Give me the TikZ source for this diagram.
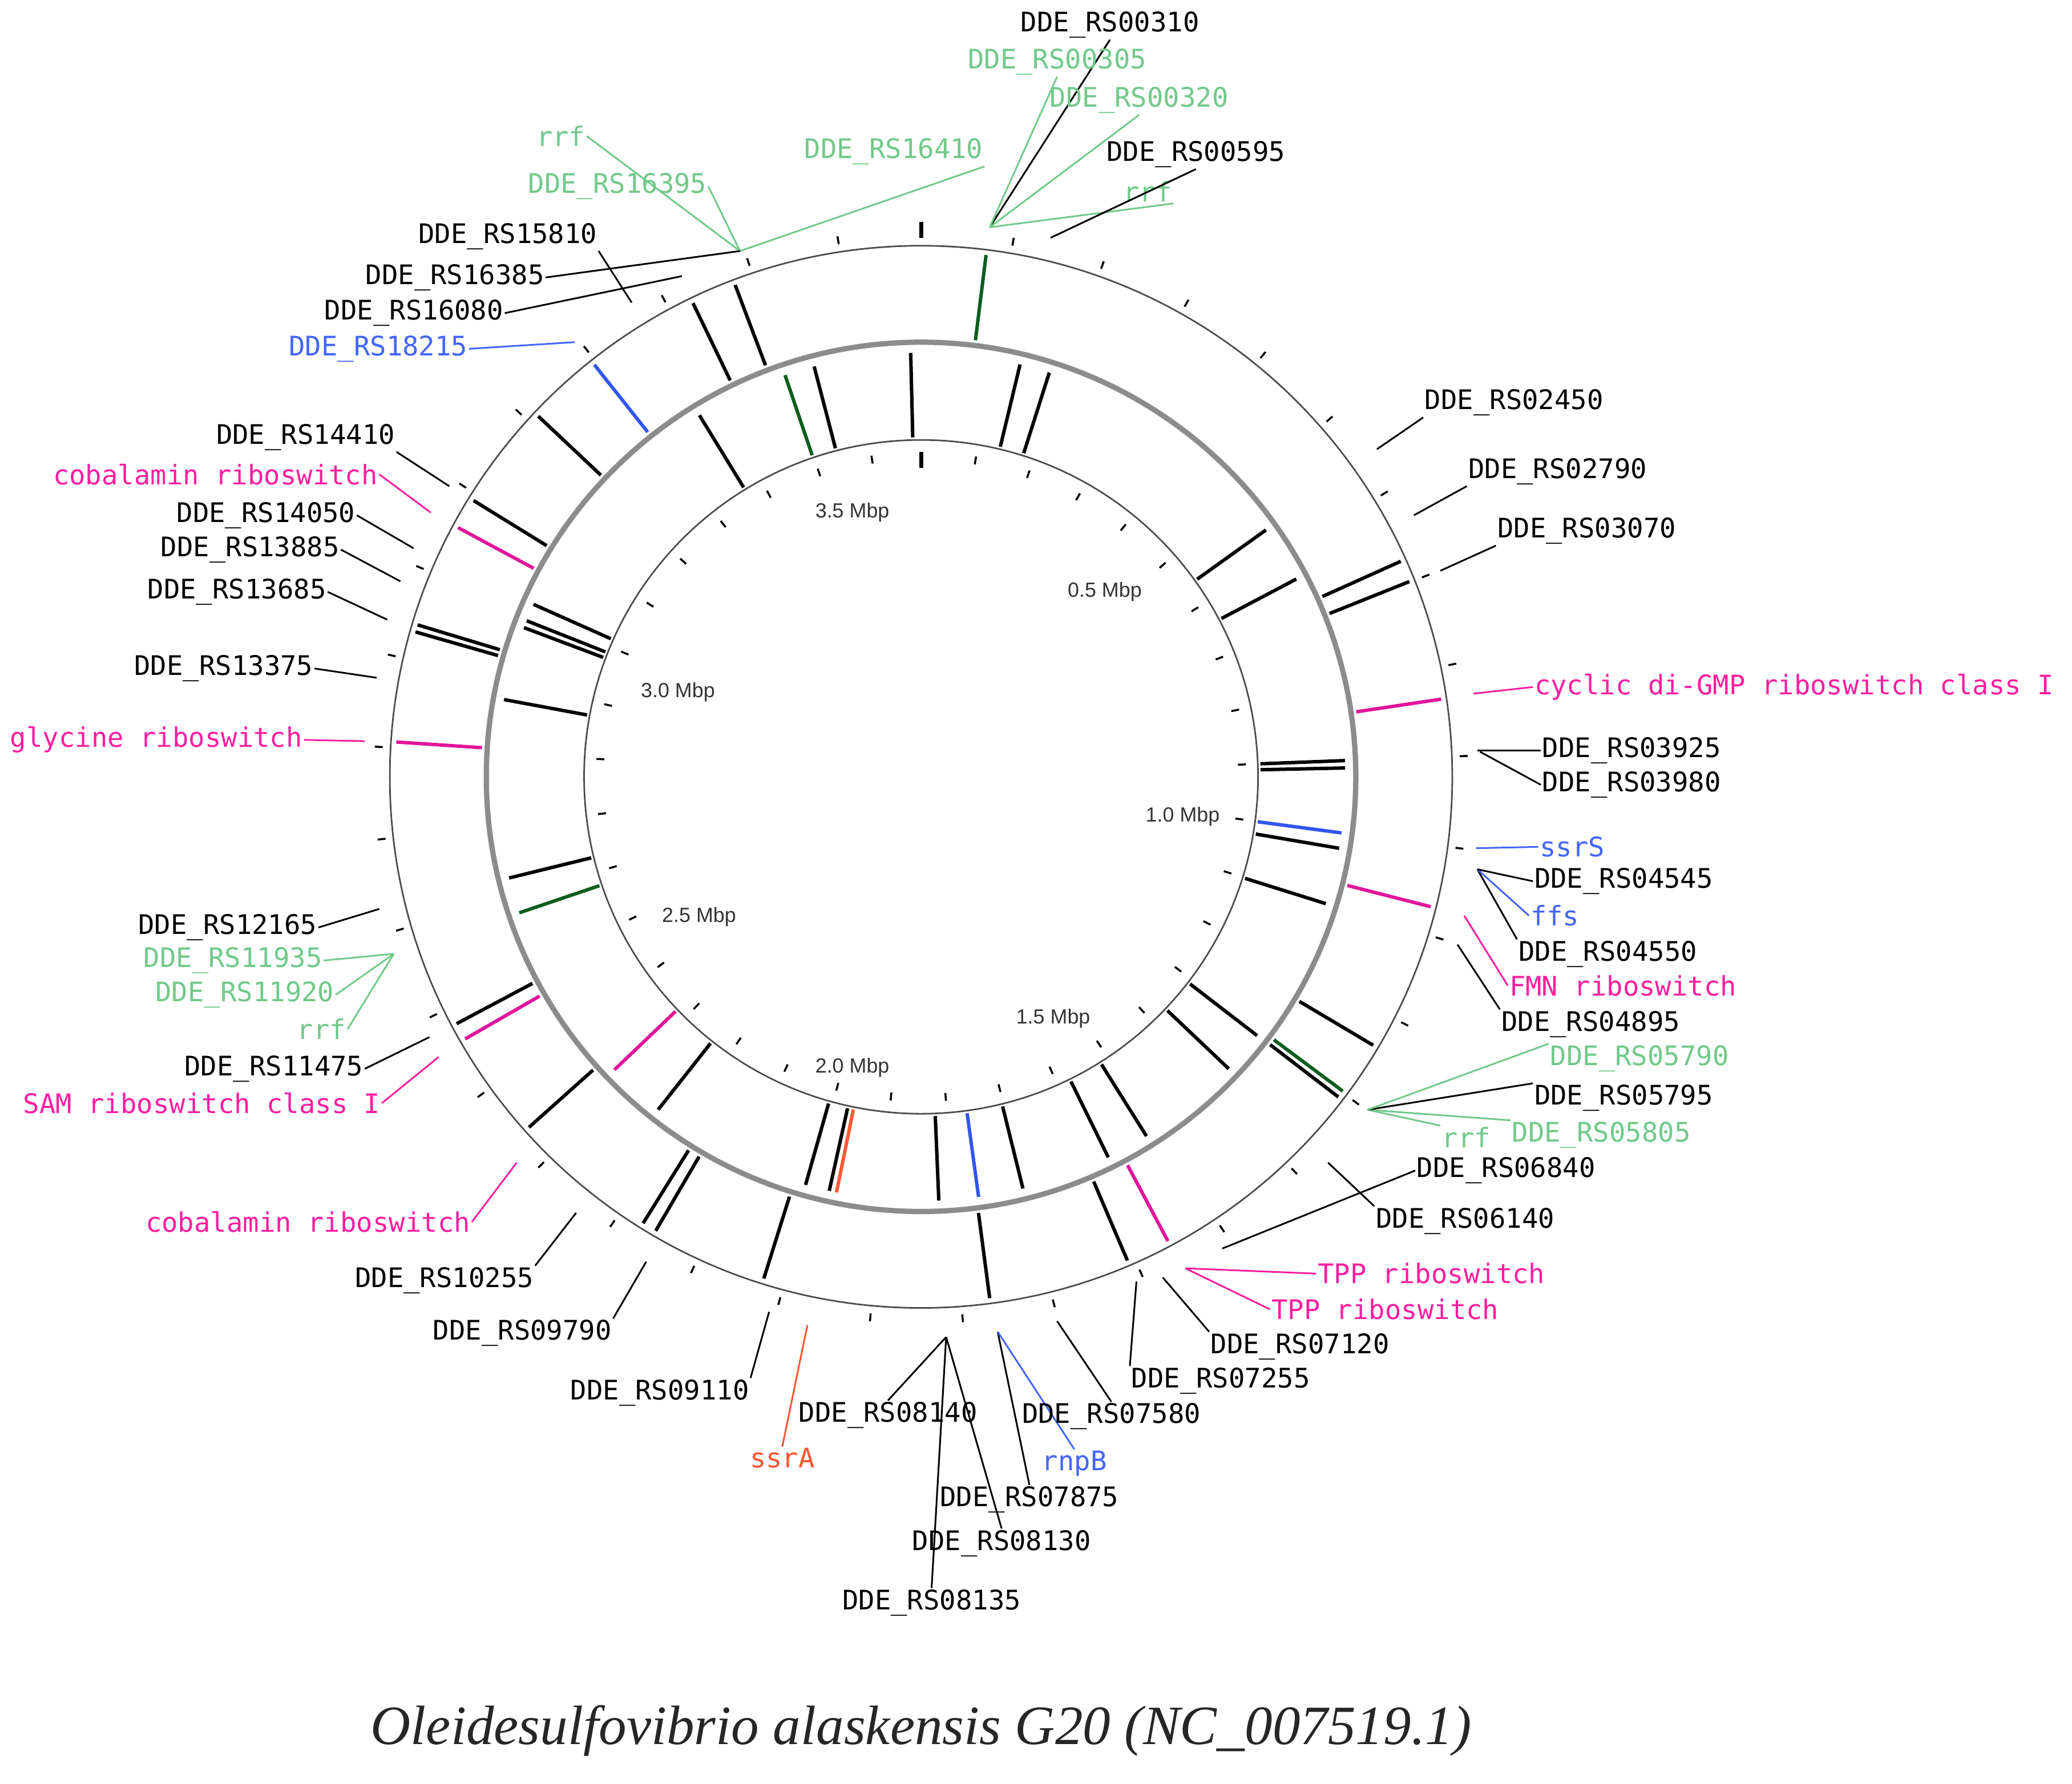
\documentclass[tikz,border=0pt]{standalone}
\usepackage{fontspec}
\setmainfont{Liberation Serif}
\newfontfamily\monof{DejaVu Sans Mono}
\newfontfamily\sansf{Liberation Sans}
\definecolor{fgreen}{HTML}{0B5D1E}
\definecolor{fmag}{HTML}{E0169B}
\definecolor{fblue}{HTML}{3355EE}
\definecolor{forange}{HTML}{FF5A36}
\definecolor{lgreen}{HTML}{72C98A}
\definecolor{lmag}{HTML}{FF1FA0}
\definecolor{lblue}{HTML}{4466FF}
\definecolor{lorange}{HTML}{FF5533}
\tikzset{
  lbl/.style={font=\monof\fontsize{20.4}{24}\selectfont, inner sep=1pt},
  con/.style={line width=1.3pt},
  feat/.style={line width=2.6pt},
  mb/.style={font=\sansf\fontsize{15.5}{18}\selectfont, text=black!80},
}
% \lab[color]{id}{x,y}{anchor}{text}{end}
\newcommand{\lab}[6][black]{%
  \node[lbl, text=#1, anchor=#4] (#2) at (#3) {#5};
  \coordinate (#2e) at (#6);
  \draw[con, #1] (#2.#4) -- (#2e);}
\begin{document}
\begin{tikzpicture}[x=1pt,y=-1pt]
\useasboundingbox (0,0) rectangle (1568,1350);
\begin{scope}[shift={(697,588)}]
  \draw[black!70, line width=1.2pt] (0,0) circle (402);
  \draw[black!70, line width=1.2pt] (0,0) circle (255);
  \draw[black!45, line width=4pt] (0,0) circle (329);
  % ticks
  \foreach \k in {1,...,36} {
    \draw[line width=1.5pt] ({\k*9.756-90}:240) -- ({\k*9.756-90}:246);
    \draw[line width=1.5pt] ({\k*9.756-90}:408) -- ({\k*9.756-90}:414);
  }
  \draw[line width=3pt] (-90:234) -- (-90:246);
  \draw[line width=3pt] (-90:408) -- (-90:420);
  % outer ring features
  \foreach \a/\c in {7.1/fgreen,65.8/black,68.2/black,81.5/fmag,104.3/fmag,120.7/black,
     126.7/fgreen,127.5/black,152/fmag,156.9/black,172.5/black,197.4/black,210.3/black,
     211.9/black,228.2/black,240.1/fmag,242/black,273.8/fmag,286/black,286.8/black,
     298.3/fmag,301.7/black,313.3/black,321.6/fblue,334.3/black,339.3/black}
    \draw[feat, \c] ({\a-90}:333) -- ({\a-90}:398);
  % inner ring features
  \foreach \a/\c in {358.6/black,13.5/black,17.6/black,54.4/black,62.2/black,87.8/black,
     88.8/black,97.6/fblue,99.7/black,107.4/black,127.6/black,133.5/black,147.9/black,
     153.8/black,166.1/black,172.2/fblue,177.6/black,192.5/black,191.5/forange,195.8/black,
     218.3/black,226.3/fmag,251.3/fgreen,256.2/black,280.5/black,290.6/black,291.6/black,
     294/black,328.5/black,341.3/fgreen,345.4/black}
    \draw[feat, \c] ({\a-90}:257) -- ({\a-90}:321);
\end{scope}
% Mbp labels
\node[mb] (m35) at (645,388) {3.5 Mbp};
\node[mb] (m05) at (836,448) {0.5 Mbp};
\node[mb] (m10) at (895,618) {1.0 Mbp};
\node[mb] (m15) at (797,771) {1.5 Mbp};
\node[mb] (m20) at (645,808) {2.0 Mbp};
\node[mb] (m25) at (529,694) {2.5 Mbp};
\node[mb] (m30) at (513,524) {3.0 Mbp};
% labels
\lab[lgreen]{a1}{444,103}{east}{rrf}{560,190}
\lab[lgreen]{a2}{536,141}{east}{DDE\_RS16395}{560,190}
\lab[lgreen]{a3}{745,126}{south east}{DDE\_RS16410}{560,190}
\lab{a4}{453,190}{south east}{DDE\_RS15810}{478,229}
\lab{a5}{413,210}{east}{DDE\_RS16385}{560,190}
\lab{a6}{382,237}{east}{DDE\_RS16080}{516,209}
\lab[lblue]{a7}{355,264}{east}{DDE\_RS18215}{435,259}
\lab{a8}{300,342}{south east}{DDE\_RS14410}{340,368}
\lab[lmag]{a9}{287,359}{east}{cobalamin riboswitch}{326,388}
\lab{a10}{270,390}{east}{DDE\_RS14050}{313,415}
\lab{a11}{258,416}{east}{DDE\_RS13885}{303,440}
\lab{a12}{248,448}{east}{DDE\_RS13685}{293,469}
\lab{a13}{238,506}{east}{DDE\_RS13375}{285,513}
\lab[lmag]{a14}{230,560}{east}{glycine riboswitch}{276,561}
\lab{a15}{241,702}{east}{DDE\_RS12165}{287,688}
\lab[lgreen]{a16}{245,727}{east}{DDE\_RS11935}{298,722}
\lab[lgreen]{a17}{254,753}{east}{DDE\_RS11920}{298,722}
\lab[lgreen]{a18}{263,779}{east}{rrf}{298,722}
\lab{a19}{276,809}{east}{DDE\_RS11475}{325,785}
\lab[lmag]{a20}{289,835}{east}{SAM riboswitch class I}{332,800}
\lab[lmag]{a21}{357,925}{east}{cobalamin riboswitch}{391,880}
\lab{a22}{405,958}{north east}{DDE\_RS10255}{436,918}
\lab{a23}{464,998}{north east}{DDE\_RS09790}{489,955}
\lab{a24}{568,1043}{north east}{DDE\_RS09110}{582,993}
\lab[lorange]{a25}{592,1095}{north}{ssrA}{611,1003}
\lab{b1}{672,1060}{north}{DDE\_RS08140}{716,1012}
\lab{b2}{779,1124}{north}{DDE\_RS07875}{755,1008}
\lab{b3}{758,1157}{north}{DDE\_RS08130}{716,1012}
\lab{b4}{705,1202}{north}{DDE\_RS08135}{716,1012}
\lab[lblue]{b5}{813,1097}{north}{rnpB}{755,1008}
\lab{b6}{841,1061}{north}{DDE\_RS07580}{800,1000}
\lab{b7}{855,1034}{north west}{DDE\_RS07255}{860,970}
\lab{b8}{915,1008}{north west}{DDE\_RS07120}{880,967}
\lab[lmag]{b9}{996,964}{west}{TPP riboswitch}{897,960}
\lab[lmag]{b10}{961,991}{west}{TPP riboswitch}{897,960}
\lab{b11}{1040,913}{north west}{DDE\_RS06140}{1005,880}
\lab{b12}{1071,886}{west}{DDE\_RS06840}{925,945}
\lab[lgreen]{c1}{1090,852}{north west}{rrf}{1035,840}
\lab[lgreen]{c2}{1143,848}{north west}{DDE\_RS05805}{1035,840}
\lab{c3}{1160,820}{north west}{DDE\_RS05795}{1035,840}
\lab[lgreen]{c4}{1172,790}{north west}{DDE\_RS05790}{1035,840}
\lab{c5}{1135,764}{north west}{DDE\_RS04895}{1103,715}
\lab[lmag]{c6}{1141,746}{west}{FMN riboswitch}{1108,693}
\lab{c7}{1148,711}{north west}{DDE\_RS04550}{1118,658}
\lab[lblue]{c8}{1157,693}{west}{ffs}{1118,658}
\lab{c9}{1160,667}{west}{DDE\_RS04545}{1118,658}
\lab[lblue]{c10}{1164,641}{west}{ssrS}{1117,642}
\lab{c11}{1166,594}{west}{DDE\_RS03980}{1120,569}
\lab{c12}{1166,568}{west}{DDE\_RS03925}{1118,568}
\lab[lmag]{c13}{1160,520}{west}{cyclic di-GMP riboswitch class I}{1115,525}
\lab{c14}{1132,413}{south west}{DDE\_RS03070}{1090,432}
\lab{c15}{1110,368}{south west}{DDE\_RS02790}{1070,390}
\lab{c16}{1077,316}{south west}{DDE\_RS02450}{1042,340}
\lab{d1}{840,30}{south}{DDE\_RS00310}{749,172}
\lab[lgreen]{d2}{800,58}{south}{DDE\_RS00305}{749,172}
\lab[lgreen]{d3}{862,87}{south}{DDE\_RS00320}{749,172}
\lab[lgreen]{d4}{888,154}{south east}{rrf}{749,172}
\lab{d5}{905,128}{south}{DDE\_RS00595}{795,180}
% title
\node[font=\itshape\fontsize{42}{50}\selectfont, text=black!85] (title) at (697,1310) {Oleidesulfovibrio alaskensis G20 (NC\_007519.1)};
\end{tikzpicture}
\end{document}
